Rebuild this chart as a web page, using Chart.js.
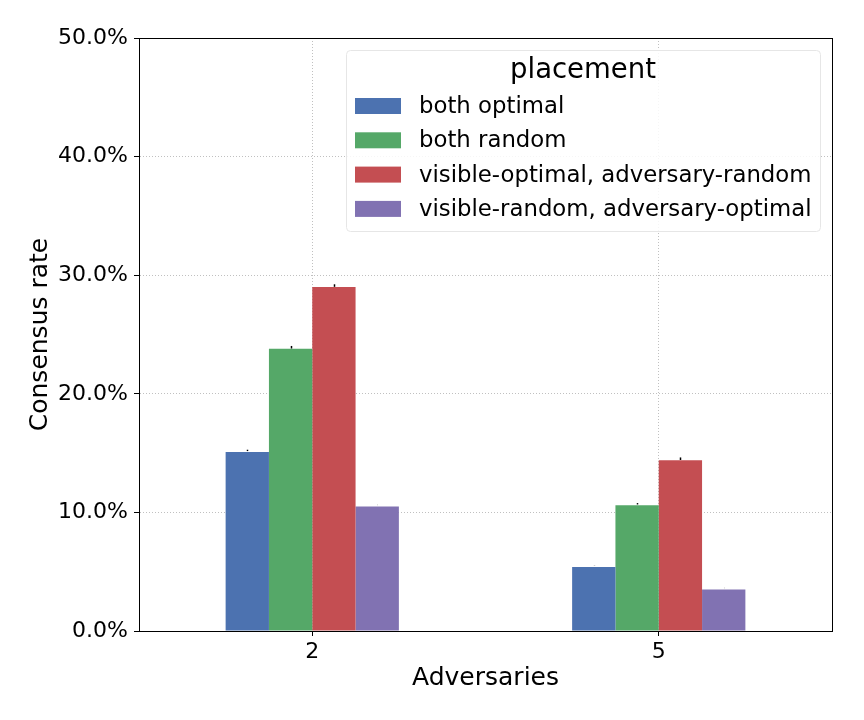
<!DOCTYPE html>
<html>
<head>
<meta charset="utf-8">
<script src="https://cdn.jsdelivr.net/npm/chart.js@4"></script>
<style>
html,body{margin:0;padding:0;background:#fff;}
#wrap{width:864px;height:720px;}
</style>
</head>
<body>
<div id="wrap"><canvas id="c" width="864" height="720"></canvas></div>
<script>
const categories = ['2', '5'];
const seriesNames = ['both optimal', 'both random', 'visible-optimal, adversary-random', 'visible-random, adversary-optimal'];
const bothOptimal = [15.1, 5.4];
const bothRandom = [23.8, 10.6];
const visOptAdvRand = [29.0, 14.4];
const visRandAdvOpt = [10.5, 3.5];
const errBothOptimal = [0.1, 0.05];
const errBothRandom = [0.15, 0.1];
const errVisOptAdvRand = [0.15, 0.15];
const errVisRandAdvOpt = [0.05, 0.05];
const yTicks = [0, 10, 20, 30, 40, 50];
const colors = ['#4C72B0', '#55A868', '#C44E52', '#8172B2'];

const values = [bothOptimal, bothRandom, visOptAdvRand, visRandAdvOpt];
const errors = [errBothOptimal, errBothRandom, errVisOptAdvRand, errVisRandAdvOpt];
const FONT = 'DejaVu Sans';

const errorBarPlugin = {
  id: 'errbars',
  afterDatasetsDraw(chart) {
    const ctx = chart.ctx, ys = chart.scales.y;
    ctx.save();
    ctx.strokeStyle = '#000';
    ctx.lineWidth = 1.5;
    chart.data.datasets.forEach((ds, i) => {
      const meta = chart.getDatasetMeta(i);
      meta.data.forEach((bar, j) => {
        const v = ds.data[j], e = errors[i][j];
        const y1 = ys.getPixelForValue(v - e), y2 = ys.getPixelForValue(v + e);
        ctx.beginPath();
        ctx.moveTo(Math.round(bar.x) + 0.5, Math.min(y1, y2 - 1));
        ctx.lineTo(Math.round(bar.x) + 0.5, Math.max(y2, y1 - 1) - 1);
        ctx.stroke();
      });
    });
    ctx.restore();
  }
};

const framePlugin = {
  id: 'frame',
  afterDraw(chart) {
    const ctx = chart.ctx, a = chart.chartArea;
    ctx.save();
    ctx.strokeStyle = '#000';
    ctx.lineWidth = 1;
    ctx.strokeRect(Math.round(a.left) + 0.5, Math.round(a.top) + 0.5, Math.round(a.right - a.left), Math.round(a.bottom - a.top));
    // legend
    const w = 474, h = 181;
    const x0 = a.right - 12 - w, y0 = a.top + 12;
    ctx.beginPath();
    if (ctx.roundRect) ctx.roundRect(x0 + 0.5, y0 + 0.5, w, h, 4); else ctx.rect(x0 + 0.5, y0 + 0.5, w, h);
    ctx.fillStyle = 'rgba(255,255,255,0.85)';
    ctx.fill();
    ctx.strokeStyle = '#e6e6e6';
    ctx.stroke();
    ctx.fillStyle = '#000';
    ctx.font = '27.5px "' + FONT + '"';
    ctx.textAlign = 'center';
    ctx.textBaseline = 'middle';
    ctx.fillText('placement', x0 + w / 2, y0 + 21);
    ctx.font = '22.8px "' + FONT + '"';
    ctx.textAlign = 'left';
    chart.data.datasets.forEach((ds, i) => {
      const cy = y0 + 56 + i * 34.3;
      ctx.fillStyle = ds.backgroundColor;
      ctx.fillRect(x0 + 9, cy - 8, 46, 16);
      ctx.fillStyle = '#000';
      ctx.fillText(ds.label, x0 + 73, cy + 1);
    });
    ctx.restore();
  }
};

const gridCommon = {
  color: '#b0b0b0',
  lineWidth: 0.8,
  tickColor: '#000',
  tickLength: 5,
  tickWidth: 1
};

new Chart(document.getElementById('c'), {
  type: 'bar',
  data: {
    labels: categories,
    datasets: values.map((v, i) => ({
      label: seriesNames[i],
      data: v,
      backgroundColor: colors[i],
      borderWidth: 0,
      categoryPercentage: 0.5,
      barPercentage: 1.0
    }))
  },
  options: {
    responsive: false,
    animation: false,
    devicePixelRatio: 1,
    layout: { padding: { left: 0, top: 38, right: 32, bottom: 0 } },
    plugins: { legend: { display: false }, tooltip: { enabled: false } },
    scales: {
      x: {
        z: 1,
        offset: true,
        grid: Object.assign({ offset: false, drawTicks: true }, gridCommon),
        border: { display: true, color: '#000', width: 1, dash: [1, 2] },
        ticks: { color: '#000', font: { family: FONT, size: 22 }, padding: 3 },
        title: { display: true, text: 'Adversaries', color: '#000', font: { family: FONT, size: 25 }, padding: { top: 0, bottom: 27 } },
        afterFit(s) { s.height = 89; }
      },
      y: {
        z: 1,
        min: 0,
        max: 50,
        afterBuildTicks(s) { s.ticks = yTicks.map(v => ({ value: v })); },
        grid: Object.assign({ drawTicks: true }, gridCommon),
        border: { display: true, color: '#000', width: 1, dash: [1, 2] },
        ticks: {
          color: '#000',
          font: { family: FONT, size: 22 },
          padding: 6,
          callback: v => v.toFixed(1) + '%'
        },
        title: { display: true, text: 'Consensus rate', color: '#000', font: { family: FONT, size: 25 }, padding: { top: 25, bottom: 0 } },
        afterFit(s) { s.width = 139; }
      }
    }
  },
  plugins: [errorBarPlugin, framePlugin]
});
</script>
</body>
</html>
